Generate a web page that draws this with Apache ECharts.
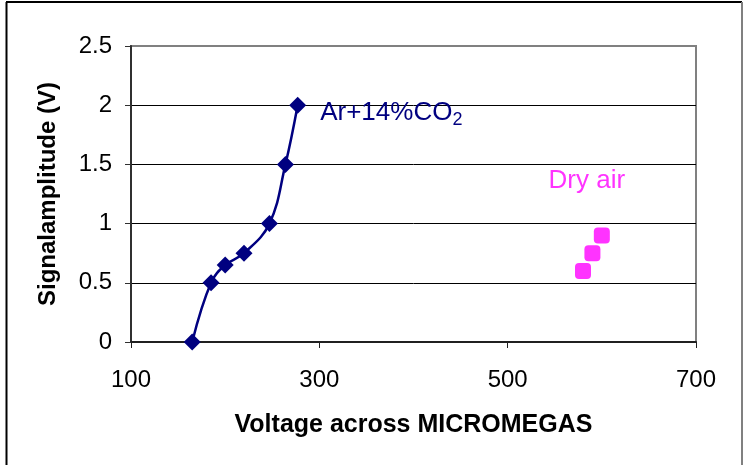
<!DOCTYPE html>
<html>
<head>
<meta charset="utf-8">
<script src="https://cdn.jsdelivr.net/npm/echarts@6/dist/echarts.min.js"></script>
<style>
html,body{margin:0;padding:0;background:#fff;}
#c{width:743px;height:465px;}
</style>
</head>
<body>
<div id="c"></div>
<script>
// Data
const arVoltage = [165, 185, 200, 220, 247, 264, 277];
const arSignal  = [0, 0.5, 0.65, 0.75, 1.0, 1.5, 2.0];
const airVoltage = [580, 590, 600];
const airSignal  = [0.6, 0.75, 0.9];
const xTicks = [100, 300, 500, 700];
const yTicks = [0, 0.5, 1, 1.5, 2, 2.5];
const arName = 'Ar+14%CO2';
const airName = 'Dry air';

const FONT = '"Liberation Sans", Arial, sans-serif';
const chart = echarts.init(document.getElementById('c'), null, {renderer: 'canvas'});

const arData = arVoltage.map((v, i) => [v, arSignal[i]]);
arData[arData.length - 1] = {
  value: arData[arData.length - 1],
  label: {
    show: true,
    position: 'right',
    distance: 14,
    offset: [0, 8],
    formatter: '{m|Ar+14%CO}{s|2}',
    rich: {
      m: {fontFamily: FONT, fontSize: 26, color: '#000080', verticalAlign: 'middle'},
      s: {fontFamily: FONT, fontSize: 18, color: '#000080', padding: [14, 0, 0, 0], verticalAlign: 'middle'}
    }
  }
};
const airData = airVoltage.map((v, i) => [v, airSignal[i]]);
airData[airData.length - 1] = {
  value: airData[airData.length - 1],
  label: {
    show: true,
    position: 'top',
    distance: 34,
    offset: [-15, 0],
    formatter: airName,
    fontFamily: FONT, fontSize: 26, color: '#ff00ff'
  }
};

chart.setOption({
  animation: false,
  backgroundColor: '#ffffff',
  grid: {left: 131, right: 47, top: 46, bottom: 123, show: true, borderColor: '#808080', borderWidth: 2, backgroundColor: 'transparent'},
  xAxis: {
    type: 'value', min: xTicks[0], max: xTicks[xTicks.length - 1], interval: 200,
    name: 'Voltage across MICROMEGAS', nameLocation: 'middle', nameGap: 71,
    nameTextStyle: {fontFamily: FONT, fontSize: 25, fontWeight: 'bold', color: '#000'},
    axisLine: {show: true, onZero: false, lineStyle: {color: '#202020', width: 2}},
    axisTick: {show: true, inside: false, length: 6, lineStyle: {color: '#202020', width: 1}},
    axisLabel: {fontFamily: FONT, fontSize: 24, color: '#000', margin: 26},
    splitLine: {show: false}
  },
  yAxis: {
    type: 'value', min: yTicks[0], max: yTicks[yTicks.length - 1], interval: 0.5,
    name: 'Signalamplitude (V)', nameLocation: 'middle', nameGap: 71, nameRotate: 90,
    nameTextStyle: {fontFamily: FONT, fontSize: 24, fontWeight: 'bold', color: '#000'},
    axisLine: {show: true, onZero: false, lineStyle: {color: '#303030', width: 2}},
    axisTick: {show: true, inside: false, length: 6, lineStyle: {color: '#303030', width: 1}},
    axisLabel: {fontFamily: FONT, fontSize: 24, color: '#000', margin: 19},
    splitLine: {show: true, showMinLine: false, showMaxLine: false, lineStyle: {color: '#000', width: 1}}
  },
  series: [
    {
      name: arName, type: 'line', data: arData, smooth: 0.4,
      symbol: 'diamond', symbolSize: 17,
      lineStyle: {color: '#000080', width: 2.5},
      itemStyle: {color: '#000080'},
      z: 3
    },
    {
      name: airName, type: 'scatter', data: airData,
      symbol: 'roundRect', symbolSize: 16,
      itemStyle: {color: '#ff00ff'},
      z: 3
    }
  ],
  graphic: [
    {type: 'line', shape: {x1: 6.5, y1: 2, x2: 6.5, y2: 465}, style: {stroke: '#000', lineWidth: 2}},
    {type: 'line', shape: {x1: 6, y1: 2, x2: 742, y2: 2}, style: {stroke: '#000', lineWidth: 2}},
    {type: 'line', shape: {x1: 742, y1: 2, x2: 742, y2: 465}, style: {stroke: '#808080', lineWidth: 2}}
  ]
});
</script>
</body>
</html>
